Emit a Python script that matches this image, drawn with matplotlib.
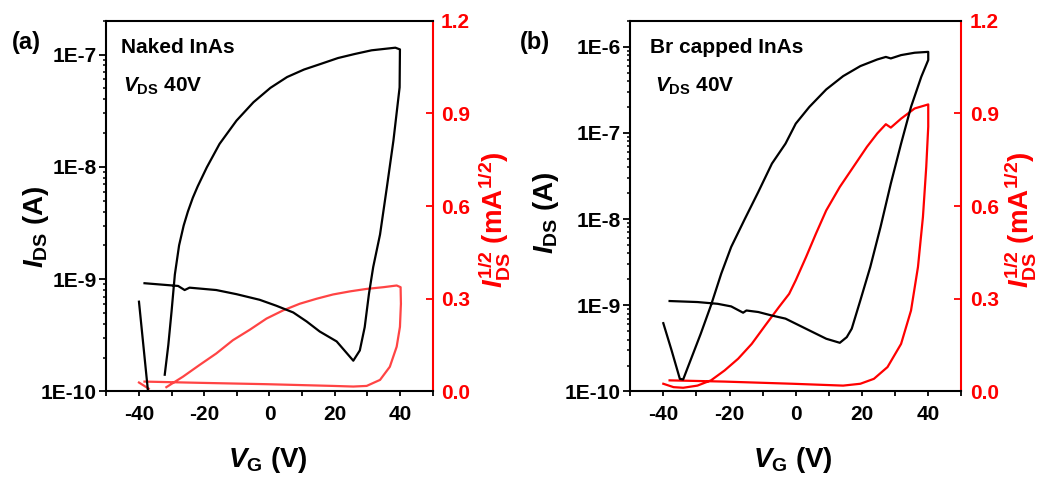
import matplotlib
matplotlib.use("Agg")
import matplotlib.pyplot as plt
import numpy as np
from matplotlib.ticker import FixedLocator, FuncFormatter, LogLocator, NullFormatter, MultipleLocator

plt.rcParams['font.family'] = ['Liberation Sans', 'DejaVu Sans']
plt.rcParams['font.weight'] = 'bold'
plt.rcParams['axes.unicode_minus'] = False
plt.rcParams['mathtext.fontset'] = 'custom'
plt.rcParams['mathtext.rm'] = 'Liberation Sans:bold'
plt.rcParams['mathtext.it'] = 'Liberation Sans:italic:bold'
plt.rcParams['mathtext.bf'] = 'Liberation Sans:bold'
plt.rcParams['mathtext.sf'] = 'Liberation Sans'

nan = np.nan

# (a) Naked InAs
vg_a_black = [-40, -37.2, nan, -32.1, -31.0, -30.0, -29.0, -27.7, -26.3, -25.0, -23.5, -22.0, -19.2, -15.3,
              -10.1, -4.9, 0.3, 5.4, 10.6, 15.8, 21.0, 26.1, 31.3, 38.6, 40.0, 39.9, 38.0, 36.0, 33.9,
              31.8, 30.5, 29.2, 27.7, 25.7, 20.6, 15.4, 11.4, 7.3, 2.1, -3.0, -10.1, -16.3, -24.5, -26.0,
              -28.0, -38.3]
ids_a = [6.3e-10, 0.98e-10, nan, 1.41e-10, 2.6e-10, 5.2e-10, 1.1e-9, 2.0e-9, 3.0e-9, 4.0e-9, 5.3e-9, 6.7e-9,
         9.9e-9, 1.6e-8, 2.58e-8, 3.76e-8, 5.05e-8, 6.3e-8, 7.35e-8, 8.26e-8, 9.3e-8, 1.01e-7, 1.09e-7,
         1.15e-7, 1.11e-7, 5.1e-8, 1.71e-8, 6.6e-9, 2.5e-9, 1.28e-9, 7.4e-10, 3.74e-10, 2.32e-10, 1.88e-10,
         2.79e-10, 3.42e-10, 4.2e-10, 5.05e-10, 5.8e-10, 6.55e-10, 7.35e-10, 8.0e-10, 8.4e-10, 8.0e-10,
         8.7e-10, 9.2e-10]

vg_a_red = [-40, -37.0, nan, -31.6, -26.5, -21.4, -16.3, -11.2, -6.0, -0.9, 4.2, 9.3, 14.4, 19.5, 24.7,
            29.8, 34.9, 39.0, 40.2, 40.3, 40.0, 39.0, 36.9, 33.9, 29.8, 25.7, 19.5, -0.9, -21.4, -38.3]
sqrt_a = [0.029, 0.009, nan, 0.014, 0.048, 0.086, 0.123, 0.166, 0.2, 0.236, 0.2625, 0.284, 0.3, 0.314,
          0.324, 0.332, 0.3375, 0.343, 0.3375, 0.284, 0.209, 0.145, 0.080, 0.0375, 0.018, 0.016, 0.018,
          0.0236, 0.028, 0.032]

# (b) Br capped InAs
vg_b_black = [-40, -37.5, -35.0, -34.0, -31.8, -28.7, -25.6, -22.5, -19.5, -15.4, -11.3, -7.2, -3.1, 0.0,
              4.1, 9.2, 14.3, 19.5, 24.6, 27.2, 28.7, 31.8, 35.9, 40.0, 40.0, 37.9, 34.8, 31.8, 28.7,
              25.6, 22.5, 19.5, 16.9, 15.4, 13.3, 9.2, 5.1, 1.0, -3.1, -7.2, -11.3, -14.9, -15.9, -19.5,
              -23.6, -29.7, -38.1]
ids_b = [6.2e-10, 3.0e-10, 1.4e-10, 1.38e-10, 2.29e-10, 4.67e-10, 1.0e-9, 2.33e-9, 4.75e-9, 1.0e-8,
         2.07e-8, 4.4e-8, 7.5e-8, 1.28e-7, 2.0e-7, 3.19e-7, 4.55e-7, 5.95e-7, 7.1e-7, 7.6e-7, 7.3e-7,
         7.98e-7, 8.5e-7, 8.7e-7, 7.0e-7, 4.47e-7, 2.0e-7, 7.5e-8, 2.58e-8, 8.1e-9, 2.78e-9, 1.14e-9,
         5.35e-10, 4.27e-10, 3.67e-10, 4.09e-10, 4.89e-10, 5.85e-10, 7.0e-10, 7.6e-10, 8.35e-10,
         8.7e-10, 8.2e-10, 9.7e-10, 1.04e-9, 1.09e-9, 1.12e-9]

vg_b_red = [-40, -36.9, -34.0, -29.7, -25.6, -21.5, -17.4, -13.3, -9.2, -5.1, -2.0, 0.0, 3.1, 6.1, 9.2,
            13.3, 17.4, 21.5, 24.6, 27.2, 28.7, 31.8, 35.9, 40.0, 40.0, 39.4, 38.4, 36.9, 34.8, 31.8,
            27.7, 23.6, 19.5, 14.3, -1.0, -21.5, -38.1]
sqrt_b = [0.025, 0.014, 0.012, 0.019, 0.036, 0.068, 0.106, 0.154, 0.214, 0.273, 0.316, 0.36, 0.435,
          0.511, 0.586, 0.662, 0.727, 0.792, 0.835, 0.865, 0.854, 0.883, 0.916, 0.929, 0.857, 0.727,
          0.565, 0.403, 0.262, 0.154, 0.079, 0.041, 0.025, 0.019, 0.025, 0.032, 0.036]

ylabel_esq = r'$\mathit{I}_{\mathrm{DS}}$ (A)'
ylabel_dir = r'$\mathit{I}_{\mathrm{DS}}^{\mathsf{1/2}}$ (mA$^{\mathsf{1/2}}$)'
xlabel = r'$\mathit{V}_{\mathrm{G}}$ (V)'


def painel(fig, pos, vg_k, ids, vg_r, sq, cor_red, ylim_top, decadas, amostra, dx_txt):
    ax = fig.add_axes(pos)
    ax2 = ax.twinx()
    ax.set_zorder(ax2.get_zorder() + 1)
    ax.patch.set_visible(False)

    ax2.plot(vg_r, sq, color=cor_red, lw=1.6)
    ax.plot(vg_k, ids, color='black', lw=1.6)

    ax.set_yscale('log')
    ax.set_xlim(-50, 50)
    ax.set_ylim(1e-10, ylim_top)
    ax2.set_ylim(0, 1.2)

    ax.xaxis.set_major_locator(FixedLocator([-40, -20, 0, 20, 40]))
    ax.xaxis.set_minor_locator(MultipleLocator(10))
    ax.yaxis.set_major_locator(FixedLocator([10.0 ** d for d in decadas]))
    ax.yaxis.set_major_formatter(FuncFormatter(lambda v, p: '1E%d' % round(np.log10(v))))
    ax.yaxis.set_minor_locator(LogLocator(base=10, subs=np.arange(2, 10)))
    ax.yaxis.set_minor_formatter(NullFormatter())

    ax.tick_params(axis='x', which='both', direction='out', length=3.5, width=1.3, labelsize=15, pad=6)
    ax.tick_params(axis='y', which='major', direction='out', length=5, width=1.3, labelsize=15, pad=2)
    ax.tick_params(axis='y', which='minor', direction='out', length=2.5, width=1.1)
    ax.tick_params(right=False, top=False)

    ax2.yaxis.set_major_locator(FixedLocator([0, 0.3, 0.6, 0.9, 1.2]))
    ax2.yaxis.set_major_formatter(FuncFormatter(lambda v, p: '%.1f' % v))
    ax2.tick_params(axis='y', direction='in', length=5, width=1.3, colors='red', labelsize=15, pad=6)

    for s in ['left', 'top', 'bottom']:
        ax.spines[s].set_linewidth(1.5)
        ax2.spines[s].set_visible(False)
    ax.spines['right'].set_visible(False)
    ax2.spines['right'].set_color('red')
    ax2.spines['right'].set_linewidth(1.5)

    for lab in ax.get_xticklabels() + ax.get_yticklabels() + ax2.get_yticklabels():
        lab.set_fontweight('bold')

    ax.text(dx_txt[0], 0.927, amostra, transform=ax.transAxes,
            fontsize=15, fontweight='bold', va='center', ha='left')
    ax.text(dx_txt[1], 0.822, r'$\mathit{V}_{\mathrm{DS}}$ 40V',
            transform=ax.transAxes, fontsize=15, fontweight='bold', va='center', ha='left')
    return ax, ax2


fig = plt.figure(figsize=(10.54, 4.78), dpi=100)

painel(fig, [0.1009, 0.181, 0.3095, 0.7757], vg_a_black, ids_a, vg_a_red, sqrt_a, '#ff4444', 2e-7,
       [-10, -9, -8, -7], 'Naked InAs', (0.045, 0.05))
painel(fig, [0.5979, 0.181, 0.3142, 0.7757], vg_b_black, ids_b, vg_b_red, sqrt_b, '#ff0000', 2e-6,
       [-10, -9, -8, -7, -6], 'Br capped InAs', (0.06, 0.075))

fig.text(0.0114, 0.912, '(a)', fontsize=17, fontweight='bold', va='center', ha='left')
fig.text(0.493, 0.912, '(b)', fontsize=17, fontweight='bold', va='center', ha='left')

fig.text(0.034, 0.525, ylabel_esq, rotation=90, fontsize=20, fontweight='bold', ha='center', va='center')
fig.text(0.5185, 0.554, ylabel_esq, rotation=90, fontsize=20, fontweight='bold', ha='center', va='center')
fig.text(0.469, 0.54, ylabel_dir, rotation=90, fontsize=20, fontweight='bold', color='red',
         ha='center', va='center')
fig.text(0.968, 0.54, ylabel_dir, rotation=90, fontsize=20, fontweight='bold', color='red',
         ha='center', va='center')
fig.text(0.2538, 0.037, xlabel, fontsize=20, fontweight='bold', ha='center', va='center')
fig.text(0.752, 0.037, xlabel, fontsize=20, fontweight='bold', ha='center', va='center')

fig.savefig('out.png', dpi=100)
